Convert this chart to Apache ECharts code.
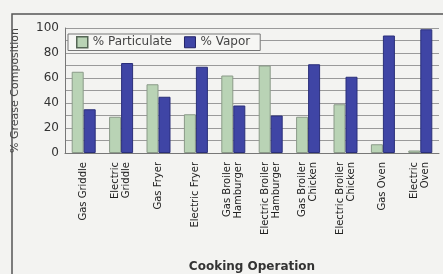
<!DOCTYPE html>
<html>
<head>
<meta charset="utf-8">
<script src="https://cdn.jsdelivr.net/npm/echarts@6/dist/echarts.min.js"></script>
<style>
  html, body { margin: 0; padding: 0; background: #f3f3f1; }
  #chart { width: 443px; height: 274px; }
</style>
</head>
<body>
<div id="chart"></div>
<script>
// 分类
const categories = [
  'Gas Griddle', 'Electric\nGriddle', 'Gas Fryer', 'Electric Fryer',
  'Gas Broiler\nHamburger', 'Electric Broiler\nHamburger', 'Gas Broiler\nChicken',
  'Electric Broiler\nChicken', 'Gas Oven', 'Electric\nOven'
];
// 数据
const particulate = [65, 29, 55, 31, 62, 70, 29, 39, 7, 2];
const vapor = [35, 72, 45, 69, 38, 30, 71, 61, 94, 99];

const chart = echarts.init(document.getElementById('chart'));

const option = {
  backgroundColor: '#f3f3f1',
  animation: false,
  grid: {
    left: 65,
    right: 4,
    top: 28,
    bottom: 118,
  },
  graphic: [
    {
      type: 'polyline',
      shape: { points: [[12, 274], [12, 14], [443, 14]] },
      style: { stroke: '#555', lineWidth: 1.5, fill: null },
    },
  ],
  legend: {
    left: 68,
    top: 34,
    icon: 'rect',
    itemWidth: 11,
    itemHeight: 11,
    itemGap: 12,
    padding: [2, 10, 2, 8],
    backgroundColor: '#f6f6f4',
    borderColor: '#777',
    borderWidth: 1,
    textStyle: { color: '#444', fontSize: 12, fontFamily: 'DejaVu Sans' },
    data: [
      { name: '% Particulate', itemStyle: { color: '#b9d3b5', borderColor: '#556655', borderWidth: 1.5 } },
      { name: '% Vapor', itemStyle: { color: '#3f45a5', borderColor: '#222266', borderWidth: 1 } },
    ],
  },
  xAxis: {
    type: 'category',
    data: categories,
    name: 'Cooking Operation',
    nameLocation: 'middle',
    nameGap: 108,
    nameTextStyle: { color: '#333', fontSize: 12, fontWeight: 'bold', fontFamily: 'DejaVu Sans' },
    axisLine: { lineStyle: { color: '#777' } },
    axisTick: { show: false },
    axisLabel: {
      rotate: 90,
      interval: 0,
      margin: 9,
      color: '#222',
      fontSize: 10,
      lineHeight: 11,
      fontFamily: 'DejaVu Sans',
    },
  },
  yAxis: {
    type: 'value',
    min: 0,
    max: 100,
    interval: 10,
    name: '% Grease Composition',
    nameLocation: 'middle',
    nameGap: 44,
    nameTextStyle: { color: '#444', fontSize: 11, fontFamily: 'DejaVu Sans' },
    axisLine: { show: true, lineStyle: { color: '#777' } },
    axisTick: { show: false },
    axisLabel: {
      color: '#333',
      fontSize: 12,
      margin: 6,
      fontFamily: 'DejaVu Sans',
      formatter: (v) => (v % 20 === 0 ? String(v) : ''),
    },
    splitLine: { show: true, lineStyle: { color: '#9a9a9a', width: 1 } },
  },
  series: [
    {
      name: '% Particulate',
      type: 'bar',
      data: particulate,
      barWidth: 12,
      barGap: '0%',
      itemStyle: { color: '#b9d3b5', borderColor: '#8a9a88', borderWidth: 1 },
    },
    {
      name: '% Vapor',
      type: 'bar',
      data: vapor,
      barWidth: 12,
      itemStyle: { color: '#3f45a5', borderColor: '#2a2f7a', borderWidth: 1 },
    },
  ],
};

chart.setOption(option, true);
</script>
</body>
</html>
